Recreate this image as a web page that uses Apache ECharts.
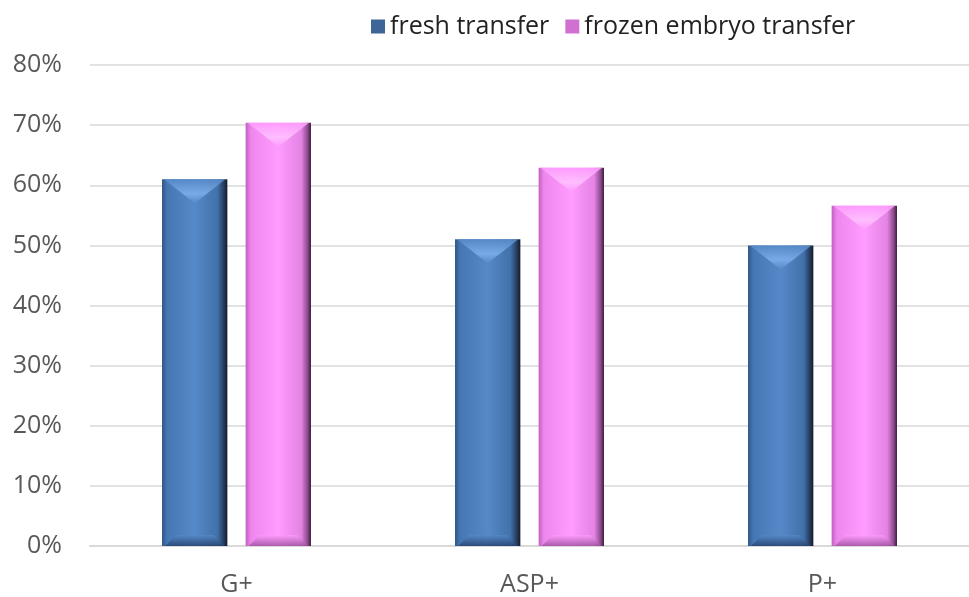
<!DOCTYPE html>
<html>
<head>
<meta charset="utf-8">
<script src="https://cdn.jsdelivr.net/npm/echarts@6/dist/echarts.min.js"></script>
<style>html,body{margin:0;padding:0;background:#fff}#c{width:969px;height:597px}</style>
</head>
<body>
<div id="c"></div>
<script>
const categories = ['G+', 'ASP+', 'P+'];
const seriesNames = ['fresh transfer', 'frozen embryo transfer'];
const freshValues = [61, 51, 50];
const frozenValues = [70.4, 62.9, 56.6];
const yTicks = [0, 10, 20, 30, 40, 50, 60, 70, 80];

const palettes = [
  {body: ['#2f5686', '#4677b5', '#5689c8', '#4271aa', '#24395a', '#121c2c'], hi: '#7fb0ee', dark: '#24406a', legend: '#3d6598'},
  {body: ['#c060c0', '#ee86ee', '#ff9cff', '#e483e4', '#8a4a8a', '#40183f'], hi: '#ffc4ff', dark: '#9a4f9a', legend: '#d070d0'}
];
function hgrad(c) {
  return new echarts.graphic.LinearGradient(0, 0, 1, 0, [
    {offset: 0, color: c[0]}, {offset: 0.08, color: c[1]}, {offset: 0.5, color: c[2]},
    {offset: 0.85, color: c[3]}, {offset: 0.95, color: c[4]}, {offset: 1, color: c[5]}]);
}
function makeRender(sIdx) {
  const p = palettes[sIdx];
  return function (params, api) {
    const cat = api.value(0), val = api.value(1);
    const top = api.coord([cat, val]);
    const base = api.coord([cat, 0]);
    const band = api.size([1, 0])[0];
    const w = band * 0.223, gap = w * 0.28;
    const x0 = top[0] - (2 * w + gap) / 2 + sIdx * (w + gap);
    const y0 = top[1], y1 = base[1];
    const h = y1 - y0;
    const tb = Math.min(24, h / 3), bb = Math.min(11, h / 4);
    return {
      type: 'group',
      children: [
        {type: 'rect', shape: {x: x0, y: y0, width: w, height: h}, style: {fill: hgrad(p.body)}},
        {type: 'polygon', shape: {points: [[x0 + 2, y0], [x0 + w - 2, y0], [x0 + w / 2, y0 + tb]]},
          style: {fill: new echarts.graphic.LinearGradient(0, 0, 0, 1, [{offset: 0, color: p.body[2]}, {offset: 0.6, color: p.hi}, {offset: 1, color: p.body[2]}]), opacity: 0.85}},
        {type: 'polygon', shape: {points: [[x0 + 3, y1], [x0 + w - 3, y1], [x0 + w - 3 - bb, y1 - bb], [x0 + 3 + bb, y1 - bb]]},
          style: {fill: new echarts.graphic.LinearGradient(0, 0, 0, 1, [{offset: 0, color: p.body[2]}, {offset: 1, color: p.dark}]), opacity: 0.8}}
      ]
    };
  };
}

const chart = echarts.init(document.getElementById('c'));
chart.setOption({
  animation: false,
  backgroundColor: '#fff',
  textStyle: {fontFamily: 'Open Sans'},
  legend: {
    top: 9, left: 366,
    itemWidth: 14, itemHeight: 14, itemGap: 16,
    icon: 'rect',
    textStyle: {fontSize: 25, color: '#222', fontFamily: 'Open Sans'},
    data: seriesNames
  },
  grid: {left: 90, top: 65, width: 890, height: 483},
  xAxis: {
    type: 'category', data: categories,
    axisLine: {lineStyle: {color: '#d9d9d9', width: 2}},
    axisTick: {show: false},
    axisLabel: {fontSize: 25, color: '#595959', margin: 26}
  },
  yAxis: {
    type: 'value', min: 0, max: 80, interval: 10,
    axisLine: {show: false}, axisTick: {show: false},
    splitLine: {lineStyle: {color: '#d9d9d9', width: 1.5}},
    axisLabel: {fontSize: 25, color: '#595959', margin: 28, formatter: v => yTicks.includes(v) ? v + '%' : ''}
  },
  series: [
    {name: seriesNames[0], type: 'custom', renderItem: makeRender(0), encode: {x: 0, y: 1},
      itemStyle: {color: palettes[0].legend}, data: freshValues.map((v, i) => [i, v])},
    {name: seriesNames[1], type: 'custom', renderItem: makeRender(1), encode: {x: 0, y: 1},
      itemStyle: {color: palettes[1].legend}, data: frozenValues.map((v, i) => [i, v])}
  ]
});
</script>
</body>
</html>
